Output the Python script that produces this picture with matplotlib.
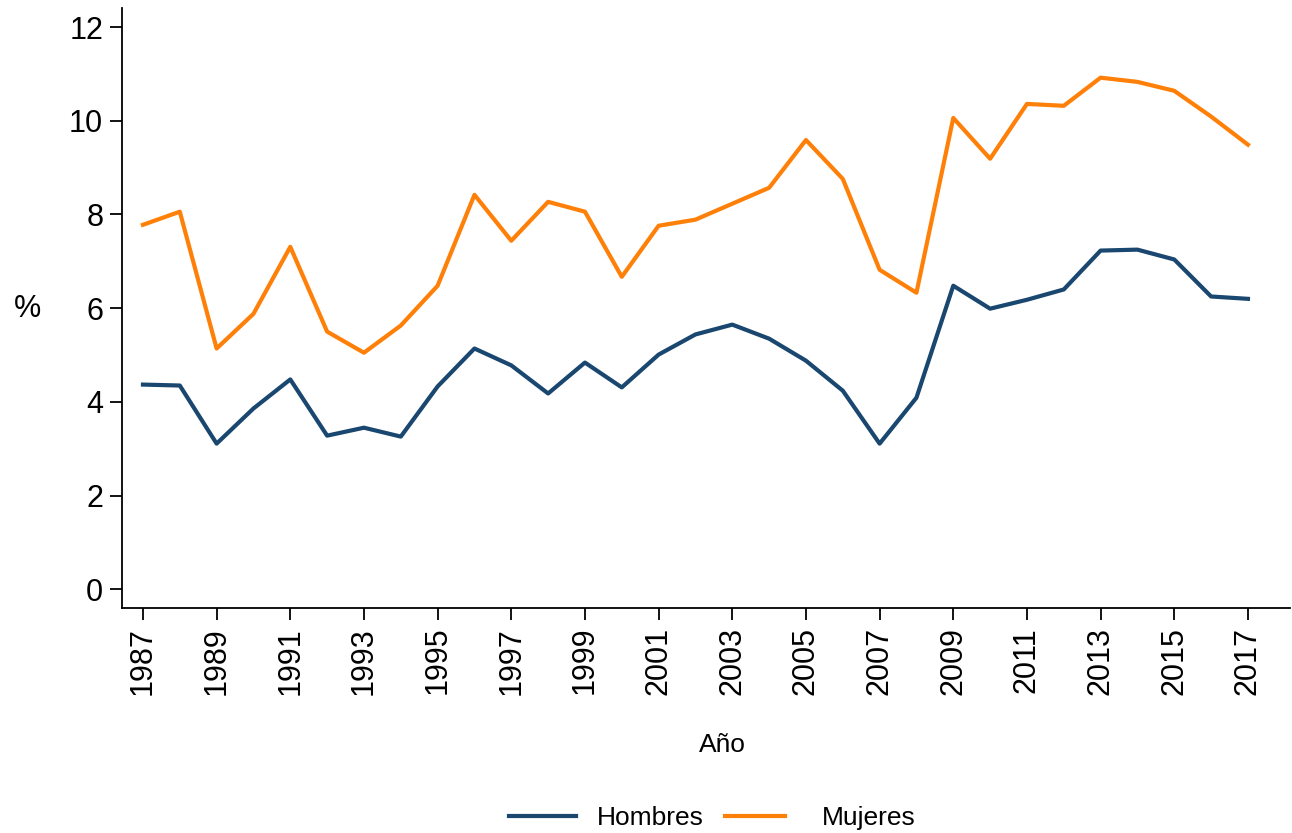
import matplotlib
matplotlib.use("Agg")
import matplotlib.pyplot as plt

plt.rcParams['font.family'] = ['Liberation Sans', 'DejaVu Sans']

years = list(range(1987, 2018))
hombres = [4.37, 4.35, 3.11, 3.86, 4.48, 3.28, 3.45, 3.26, 4.33, 5.14,
           4.78, 4.18, 4.84, 4.31, 5.01, 5.44, 5.65, 5.35, 4.88, 4.24,
           3.11, 4.09, 6.48, 5.99, 6.18, 6.40, 7.23, 7.25, 7.04, 6.25, 6.20]
mujeres = [7.78, 8.06, 5.14, 5.88, 7.31, 5.50, 5.05, 5.63, 6.48, 8.42,
           7.44, 8.27, 8.06, 6.67, 7.76, 7.89, 8.23, 8.57, 9.59, 8.76,
           6.82, 6.33, 10.06, 9.19, 10.36, 10.32, 10.92, 10.83, 10.64, 10.09, 9.49]
xticks = list(range(1987, 2018, 2))
yticks = [0, 2, 4, 6, 8, 10, 12]

fig = plt.figure(figsize=(12.92, 8.33), dpi=100)
ax = fig.add_axes([0.0944, 0.270, 0.904, 0.720])

l1, = ax.plot(years, hombres, color='#1a476f', lw=3.0, label='Hombres')
l2, = ax.plot(years, mujeres, color='#ff8008', lw=3.0, label='Mujeres')

ax.set_xlim(1986.43, 2018.14)
ax.set_ylim(-0.4, 12.4)
ax.set_xticks(xticks)
ax.set_xticklabels([str(y) for y in xticks], rotation=90)
ax.set_yticks(yticks)
ax.tick_params(axis='both', labelsize=22, length=8.5, width=1.3, pad=5)

for s in ['top', 'right']:
    ax.spines[s].set_visible(False)
for s in ['left', 'bottom']:
    ax.spines[s].set_linewidth(1.3)

# axis titles placed in figure coordinates
fig.text(0.0209, 0.629, '%', fontsize=22, ha='center', va='center')
fig.text(0.5588, 0.1056, 'Año', fontsize=19, ha='center', va='center')

# two single-entry legends so each key sits where it should
leg1 = fig.legend(handles=[l1], loc='center left', frameon=False, fontsize=19,
                  borderpad=0, borderaxespad=0, handlelength=2.54, handletextpad=0.8,
                  bbox_to_anchor=(509 / 1292, 1 - 818 / 833))
leg2 = fig.legend(handles=[l2], loc='center left', frameon=False, fontsize=19,
                  borderpad=0, borderaxespad=0, handlelength=2.27, handletextpad=1.4,
                  bbox_to_anchor=(725 / 1292, 1 - 818 / 833))

fig.savefig('out.png', dpi=100)
